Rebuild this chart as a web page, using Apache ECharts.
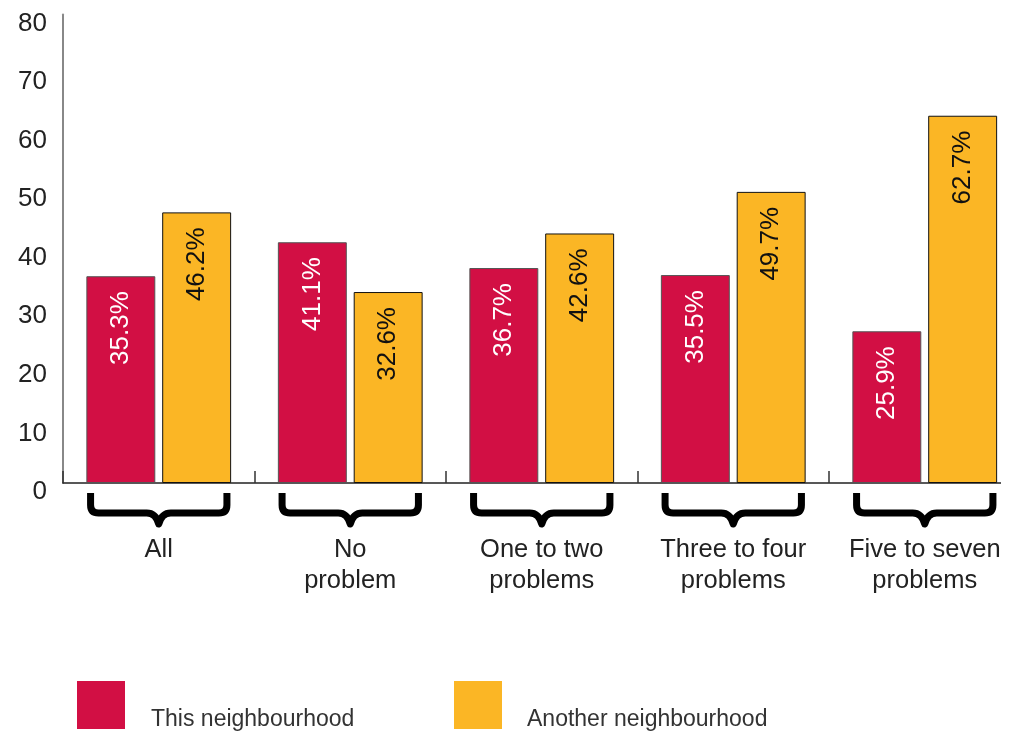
<!DOCTYPE html>
<html>
<head>
<meta charset="utf-8">
<script src="https://cdn.jsdelivr.net/npm/echarts@6/dist/echarts.min.js"></script>
<style>html,body{margin:0;padding:0;background:#fff}#chart{width:1010px;height:734px}</style>
</head>
<body>
<div id="chart"></div>
<script>
const categories = ['All', 'No\nproblem', 'One to two\nproblems', 'Three to four\nproblems', 'Five to seven\nproblems'];
const seriesNames = ['This neighbourhood', 'Another neighbourhood'];
const thisNeighbourhood = [35.3, 41.1, 36.7, 35.5, 25.9];
const anotherNeighbourhood = [46.2, 32.6, 42.6, 49.7, 62.7];
const yTicks = [0, 10, 20, 30, 40, 50, 60, 70, 80];

const FONT = '"Liberation Sans", Arial, sans-serif';
const RED = '#D20F44';
const GOLD = '#FBB625';

const chart = echarts.init(document.getElementById('chart'), null, {renderer: 'canvas'});

function braceItem(params, api) {
  const idx = api.value(0);
  const p = api.coord([idx, 0]);
  const cx = p[0], y0 = p[1];
  const w = api.size([1, 0])[0] * 0.356;
  const d = [
    'M', cx - w, y0 + 10,
    'L', cx - w, y0 + 22,
    'Q', cx - w, y0 + 30, cx - w + 8, y0 + 30,
    'L', cx - 12, y0 + 30,
    'Q', cx - 3, y0 + 30, cx, y0 + 41,
    'Q', cx + 3, y0 + 30, cx + 12, y0 + 30,
    'L', cx + w - 8, y0 + 30,
    'Q', cx + w, y0 + 30, cx + w, y0 + 22,
    'L', cx + w, y0 + 10
  ].join(' ');
  return {
    type: 'path',
    shape: {pathData: d},
    style: {fill: null, stroke: '#000', lineWidth: 7, lineJoin: 'round', lineCap: 'butt'},
    silent: true
  };
}

function legendCfg(name, left, padLeft) {
  return {
    data: [name], left: left, top: 676, padding: 0,
    itemWidth: 48, itemHeight: 48, icon: 'rect',
    itemStyle: {borderWidth: 0},
    formatter: n => '\n' + n,
    textStyle: {fontFamily: FONT, fontSize: 23, lineHeight: 29, color: '#333', padding: [0, 0, 0, padLeft]}
  };
}

const option = {
  animation: false,
  backgroundColor: '#fff',
  textStyle: {fontFamily: FONT},
  grid: {left: 63, right: -10.5, top: 14.4, bottom: 251, containLabel: false, outerBoundsMode: 'none'},
  legend: [legendCfg(seriesNames[0], 77, 21), legendCfg(seriesNames[1], 454, 20)],
  xAxis: {
    type: 'category',
    data: categories,
    axisLine: {lineStyle: {color: '#222', width: 1.5}},
    axisTick: {show: true, inside: true, length: 12, interval: 0, alignWithLabel: false, lineStyle: {color: '#333', width: 1.5}},
    axisLabel: {interval: 0, margin: 51, fontFamily: FONT, fontSize: 25.5, lineHeight: 31, color: '#222'},
    splitLine: {show: false}
  },
  yAxis: {
    type: 'value',
    min: yTicks[0], max: yTicks[yTicks.length - 1], interval: 10,
    axisLine: {show: true, lineStyle: {color: '#888', width: 2}},
    axisTick: {show: false},
    splitLine: {show: false},
    axisLabel: {margin: 16, fontFamily: FONT, fontSize: 26, lineHeight: 18, verticalAlign: 'top', color: '#222'}
  },
  series: [
    {
      name: seriesNames[0], type: 'bar', data: thisNeighbourhood,
      barWidth: '36%', barGap: '10%',
      itemStyle: {color: RED, borderColor: '#555', borderWidth: 1},
      label: {
        show: true, position: 'insideTop', rotate: 90, align: 'right', verticalAlign: 'middle',
        distance: 15, formatter: '{c}%', fontFamily: FONT, fontSize: 26, color: '#fff'
      }
    },
    {
      name: seriesNames[1], type: 'bar', data: anotherNeighbourhood,
      barWidth: '36%', barGap: '10%',
      itemStyle: {color: GOLD, borderColor: '#111', borderWidth: 1},
      label: {
        show: true, position: 'insideTop', rotate: 90, align: 'right', verticalAlign: 'middle',
        distance: 15, formatter: '{c}%', fontFamily: FONT, fontSize: 26, color: '#111'
      }
    },
    {
      name: 'braces', type: 'custom', silent: true, clip: false, z: 5,
      data: categories.map((c, i) => [i]),
      encode: {x: 0},
      renderItem: braceItem
    }
  ],
  graphic: [
    {type: 'rect', left: 1001, top: 476, shape: {width: 12, height: 10}, style: {fill: '#fff'}, z: 100, silent: true}
  ]
};
chart.setOption(option);
</script>
</body>
</html>
